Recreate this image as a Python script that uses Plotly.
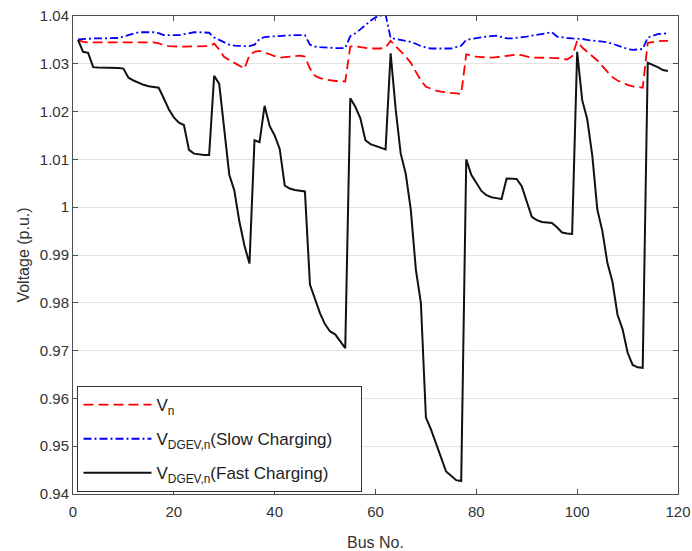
import plotly.graph_objects as go

# bus voltages (IEEE 118-bus)
bus = list(range(1, 119))

v_base = [
    1.0350, 1.0346, 1.0345, 1.0345, 1.0345, 1.0345, 1.0345, 1.0345, 1.0345, 1.0345,
    1.0345, 1.0345, 1.0345, 1.0345, 1.0345, 1.0345, 1.0343, 1.0339, 1.0337, 1.0336,
    1.0336, 1.0336, 1.0336, 1.0336, 1.0336, 1.0336, 1.0337, 1.0342, 1.0330, 1.0314,
    1.0308, 1.0303, 1.0297, 1.0290, 1.0318, 1.0325, 1.0327, 1.0324, 1.0320, 1.0316,
    1.0313, 1.0314, 1.0315, 1.0316, 1.0317, 1.0315, 1.0290, 1.0275, 1.0270, 1.0267,
    1.0265, 1.0264, 1.0264, 1.0263, 1.0336, 1.0337, 1.0335, 1.0333, 1.0332, 1.0332,
    1.0332, 1.0334, 1.0348, 1.0337, 1.0327, 1.0315, 1.0302, 1.0285, 1.0265, 1.0252,
    1.0248, 1.0244, 1.0242, 1.0240, 1.0239, 1.0238, 1.0237, 1.0320, 1.0317, 1.0315,
    1.0314, 1.0313, 1.0313, 1.0314, 1.0315, 1.0316, 1.0318, 1.0319, 1.0318, 1.0315,
    1.0313, 1.0313, 1.0313, 1.0313, 1.0313, 1.0312, 1.0310, 1.0309, 1.0316, 1.0348,
    1.0334, 1.0325, 1.0316, 1.0307, 1.0295, 1.0283, 1.0272, 1.0265, 1.0260, 1.0256,
    1.0253, 1.0251, 1.0250, 1.0344, 1.0346, 1.0347, 1.0348, 1.0348,
]

v_slow = [
    1.0351, 1.0352, 1.0352, 1.0353, 1.0353, 1.0353, 1.0353, 1.0353, 1.0354, 1.0357,
    1.0360, 1.0363, 1.0366, 1.0366, 1.0366, 1.0366, 1.0364, 1.0360, 1.0360, 1.0360,
    1.0360, 1.0362, 1.0364, 1.0366, 1.0366, 1.0366, 1.0365, 1.0355, 1.0350, 1.0344,
    1.0340, 1.0338, 1.0337, 1.0337, 1.0337, 1.0340, 1.0352, 1.0356, 1.0357, 1.0357,
    1.0358, 1.0359, 1.0360, 1.0360, 1.0360, 1.0360, 1.0340, 1.0336, 1.0335, 1.0334,
    1.0333, 1.0333, 1.0333, 1.0333, 1.0358, 1.0364, 1.0372, 1.0382, 1.0390, 1.0397,
    1.0401, 1.0403, 1.0354, 1.0352, 1.0350, 1.0348, 1.0346, 1.0342, 1.0337, 1.0334,
    1.0332, 1.0332, 1.0332, 1.0332, 1.0332, 1.0335, 1.0338, 1.0350, 1.0352, 1.0353,
    1.0355, 1.0357, 1.0358, 1.0359, 1.0356, 1.0353, 1.0353, 1.0354, 1.0355, 1.0357,
    1.0359, 1.0361, 1.0363, 1.0365, 1.0366, 1.0357, 1.0355, 1.0354, 1.0353, 1.0353,
    1.0352, 1.0350, 1.0349, 1.0348, 1.0347, 1.0345, 1.0342, 1.0338, 1.0334, 1.0331,
    1.0329, 1.0330, 1.0331, 1.0355, 1.0359, 1.0362, 1.0363, 1.0364,
]

v_fast = [
    1.0350, 1.0325, 1.0323, 1.0293, 1.0292, 1.0292, 1.0291, 1.0291, 1.0291, 1.0290,
    1.0271, 1.0265, 1.0260, 1.0256, 1.0253, 1.0252, 1.0250, 1.0228, 1.0205, 1.0188,
    1.0177, 1.0172, 1.0120, 1.0112, 1.0110, 1.0109, 1.0109, 1.0275, 1.0258, 1.0165,
    1.0068, 1.0035, 0.9970, 0.9920, 0.9882, 1.0140, 1.0136, 1.0212, 1.0170, 1.0150,
    1.0122, 1.0045, 1.0039, 1.0036, 1.0034, 1.0033, 0.9838, 0.9810, 0.9778, 0.9755,
    0.9740, 0.9734, 0.9720, 0.9705, 1.0228, 1.0210, 1.0186, 1.0140, 1.0132, 1.0128,
    1.0124, 1.0121, 1.0322, 1.0205, 1.0112, 1.0070, 0.9995, 0.9870, 0.9800, 0.9560,
    0.9535, 0.9505, 0.9475, 0.9447, 0.9438, 0.9429, 0.9427, 1.0100, 1.0068, 1.0050,
    1.0034, 1.0025, 1.0021, 1.0019, 1.0017, 1.0060, 1.0060, 1.0059, 1.0044, 1.0012,
    0.9980, 0.9973, 0.9969, 0.9968, 0.9967, 0.9958, 0.9947, 0.9945, 0.9944, 1.0325,
    1.0224, 1.0184, 1.0108, 0.9995, 0.9950, 0.9883, 0.9844, 0.9775, 0.9745, 0.9696,
    0.9670, 0.9665, 0.9664, 1.0302, 1.0298, 1.0293, 1.0287, 1.0285,
]

x_ticks = [0, 20, 40, 60, 80, 100, 120]
y_ticks = [0.94, 0.95, 0.96, 0.97, 0.98, 0.99, 1.0, 1.01, 1.02, 1.03, 1.04]
y_ticktext = ['0.94', '0.95', '0.96', '0.97', '0.98', '0.99', '1', '1.01', '1.02', '1.03', '1.04']

font = 'Liberation Sans, Arial, sans-serif'
axis_col = '#4d4d4d'
text_col = '#333333'
pad = '\u00a0' * 5  # widen the legend box a bit, like the MATLAB one

fig = go.Figure()
fig.add_trace(go.Scatter(x=bus, y=v_base, mode='lines', name='V<sub>n</sub>',
                         legendgroup='a',
                         line=dict(color='#ff0000', width=1.8, dash='10px,5px')))
fig.add_trace(go.Scatter(x=bus, y=v_slow, mode='lines',
                         name='V<sub>DGEV,n</sub>(Slow Charging)' + pad,
                         legendgroup='b',
                         line=dict(color='#0000ff', width=1.8, dash='8px,3px,2px,3px')))
fig.add_trace(go.Scatter(x=bus, y=v_fast, mode='lines', name='V<sub>DGEV,n</sub>(Fast Charging)',
                         legendgroup='c',
                         line=dict(color='#111111', width=2)))

fig.update_layout(
    width=692, height=551,
    margin=dict(l=73, r=14, t=16, b=57),
    plot_bgcolor='white', paper_bgcolor='white',
    font=dict(family=font, size=15, color=text_col),
    legend=dict(x=0.0074, y=0.004, xanchor='left', yanchor='bottom',
                bgcolor='white', bordercolor='#333333', borderwidth=1,
                font=dict(size=17, color='#222222'),
                traceorder='grouped', tracegroupgap=9,
                itemwidth=68),
    showlegend=True,
)
fig.update_xaxes(range=[0, 120], tickvals=x_ticks, ticks='inside', ticklen=5,
                 tickcolor=axis_col, showline=True, linecolor=axis_col, linewidth=1,
                 mirror='ticks', showgrid=False, zeroline=False, automargin=False,
                 ticklabelstandoff=4,
                 tickfont=dict(size=15, color=text_col),
                 title=dict(text='Bus No.', font=dict(size=16, color=text_col), standoff=21))
fig.update_yaxes(range=[0.94, 1.04], tickvals=y_ticks, ticktext=y_ticktext,
                 ticks='inside', ticklen=5, tickcolor=axis_col,
                 showline=True, linecolor=axis_col, linewidth=1, mirror='ticks',
                 showgrid=True, gridcolor='#e3e3e3', gridwidth=1, zeroline=False,
                 automargin=False,
                 tickfont=dict(size=15, color=text_col),
                 title=dict(text='Voltage (p.u.)', font=dict(size=16, color=text_col), standoff=6))

fig.write_html("out.html", config={'displayModeBar': False},
               post_script="document.body.style.margin='0';")
